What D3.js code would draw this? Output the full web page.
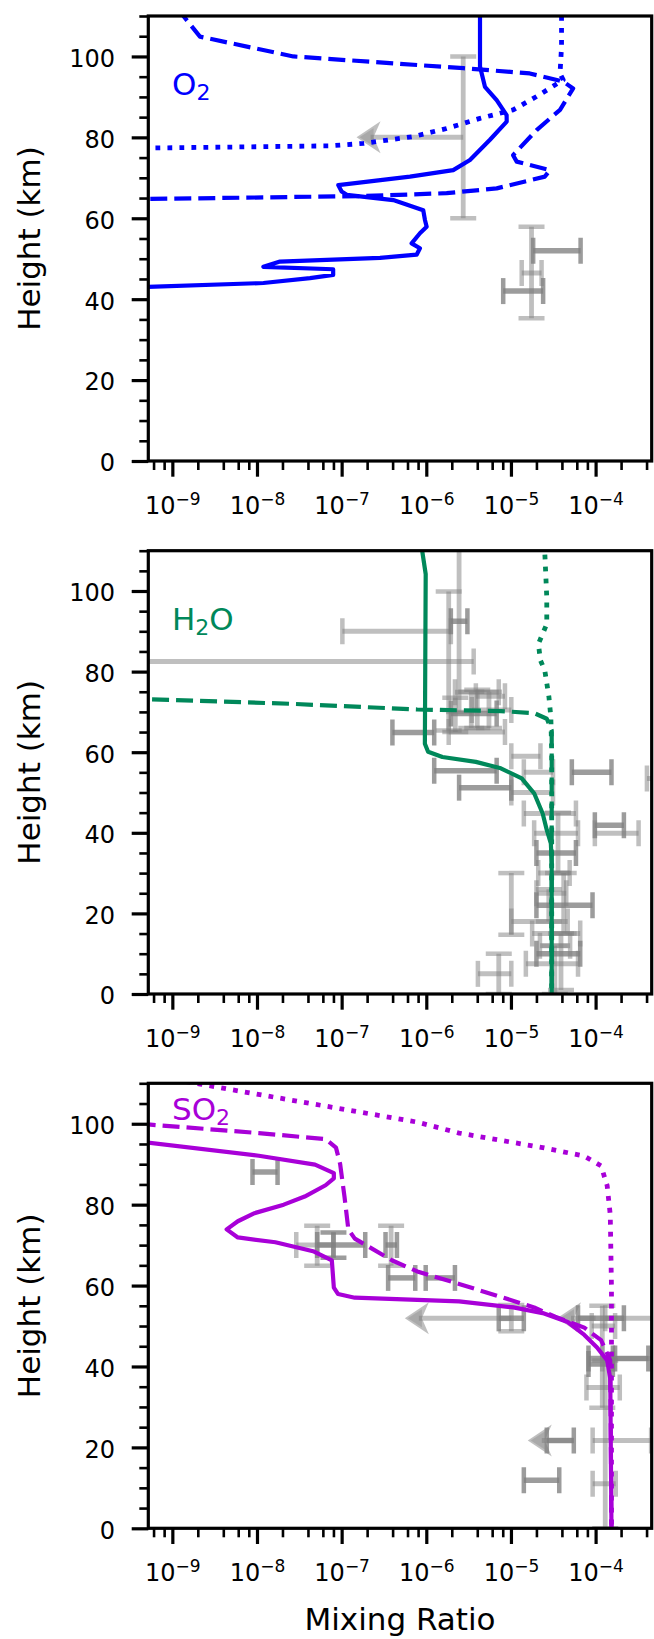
<!DOCTYPE html>
<html><head><meta charset="utf-8">
<script src="https://cdn.jsdelivr.net/npm/d3@7"></script>
<style>body{margin:0;background:#fff}svg{display:block}</style>
</head><body>
<svg id="c" width="654" height="1639"></svg>
<script>
// ---------------- DATA ----------------
const majorXTicks = [1e-9, 1e-8, 1e-7, 1e-6, 1e-5, 1e-4];
const yMajorTicks = [0, 20, 40, 60, 80, 100];
const yMinorTicks = [5,10,15,25,30,35,45,50,55,65,70,75,85,90,95,105,110];

// O2 model profiles [mixing ratio, height km]
const o2Solid = [[4.31e-6,112],[4.31e-6,97.5],[4.93e-6,92.5],[6.78e-6,89.2],[8.89e-6,85.5],[8.91e-6,83.9],[5.65e-6,79.4],[3.28e-6,74.4],[2.08e-6,71.9],[6.41e-7,70.3],[9.12e-8,68.2],[1.0e-7,66.6],[1.15e-7,65.8],[4.07e-7,64.5],[9.2e-7,62.0],[9.64e-7,59.6],[1.01e-6,57.9],[8.41e-7,56.3],[6.71e-7,53.8],[8.41e-7,52.6],[7.69e-7,51.0],[2.84e-7,50.2],[1.87e-8,49.3],[1.19e-8,48.0],[7.94e-8,47.4],[7.94e-8,46.0],[4.23e-8,45.2],[1.19e-8,44.0],[3e-10,42.9]];
const o2Dashed = [[1.2e-9,112.5],[1.35e-9,110],[2.12e-9,104.9],[2.69e-8,100],[2.74e-6,97.1],[1.67e-5,95.8],[4.14e-5,93.8],[5.43e-5,92.1],[3.8e-5,86.8],[2.01e-5,81.8],[1.06e-5,75.6],[1.17e-5,74.0],[2.88e-5,71.9],[2.52e-5,70.3],[6.78e-6,67.4],[1.74e-6,66.2],[1.8e-7,65.5],[3e-10,64.7]];
const o2Dotted = [[3.96e-5,110],[3.96e-5,102.4],[3.8e-5,95.8],[4.14e-5,94.2],[2.01e-5,90.1],[1.06e-5,86.8],[4.31e-6,84.7],[1.74e-6,82.2],[7.0e-7,80.2],[1.8e-7,78.5],[7.28e-8,77.9],[3e-10,77.3]];

// H2O model profiles
const h2oSolid = [[9.0e-7,112],[9.0e-7,109.6],[9.84e-7,104.2],[9.62e-7,62.1],[1.05e-6,60.1],[1.55e-6,58.8],[3.85e-6,57.6],[7.59e-6,56.0],[1.34e-5,53.5],[1.88e-5,49.8],[2.37e-5,44.8],[2.65e-5,40.7],[2.96e-5,37.4],[3.03e-5,32.4],[3.03e-5,0]];
const h2oDashed = [[3e-10,73.3],[2.6e-8,72.0],[7.83e-7,70.6],[7.6e-6,70.2],[1.88e-5,69.7],[2.65e-5,68.3],[3.03e-5,65.4],[3.03e-5,0]];
const h2oDotted = [[2.51e-5,112],[2.51e-5,109.6],[2.65e-5,98.4],[2.65e-5,91.8],[2.11e-5,86.9],[2.23e-5,82.8],[2.51e-5,80.3],[2.81e-5,73.7],[2.96e-5,68.7],[3.03e-5,60],[3.03e-5,0]];

// SO2 model profiles
const so2Solid = [[4e-10,95.6],[1.05e-8,92.1],[4.85e-8,89.9],[8.09e-8,87.8],[8.09e-8,86.5],[6.46e-8,84.8],[3.66e-8,82.0],[2.07e-8,80.0],[9.35e-9,77.9],[5.94e-9,75.9],[4.38e-9,73.9],[5.94e-9,71.9],[1.65e-8,70.7],[4.59e-8,68.5],[7.66e-8,66.2],[8.09e-8,59.5],[9.08e-8,57.9],[1.43e-7,57.0],[2.44e-6,56.1],[1.07e-5,54.6],[2.37e-5,53.2],[4.68e-5,51.0],[7.36e-5,47.8],[1.04e-4,44.7],[1.37e-4,41.5],[1.49e-4,37.0],[1.54e-4,0]];
const so2Dashed = [[4e-10,100.0],[1.05e-8,97.7],[6.46e-8,96.2],[8.57e-8,94.1],[9.59e-8,90.1],[1.08e-7,82.0],[1.2e-7,73.9],[1.43e-7,71.6],[3.97e-7,66.2],[7.83e-7,63.5],[2.44e-6,60.4],[7.6e-6,57.2],[1.88e-5,54.6],[3.33e-5,52.3],[7.36e-5,49.6],[1.16e-4,46.5],[1.49e-4,41.5],[1.54e-4,0]];
const so2Dotted = [[5.5e-10,112],[2.14e-9,109.8],[8.36e-9,107.6],[8.09e-8,104.0],[7.83e-7,100.4],[2.44e-6,97.7],[7.6e-6,95.9],[2.37e-5,94.1],[7.36e-5,92.0],[1.16e-4,89.6],[1.37e-4,84.7],[1.49e-4,77.5],[1.54e-4,59.5],[1.54e-4,0]];

// Observations: x, y centre; xlo/xhi, ylo/yhi error extents; ulim = upper limit arrow
const o2ObsLight = [
  {x:2.73e-6,y:80,xlo:1.5e-7,ulim:true,ylo:60,yhi:100},
  {x:1.75e-5,y:46.5,xlo:1.34e-5,xhi:2.3e-5,ylo:35.3,yhi:57.9}
];
const o2ObsDark = [
  {x:3.5e-5,y:52,xlo:1.83e-5,xhi:6.65e-5},
  {x:1.4e-5,y:42,xlo:8.1e-6,xhi:2.4e-5}
];
const h2oObsLight = [
  {x:4.5e-7,y:90,xlo:1.02e-7,xhi:1.95e-6},
  {x:1.84e-6,y:82.5,xlo:1e-11,xhi:3.63e-6,ylo:65.4,yhi:99.85},
  {x:2.44e-6,y:92.5,ylo:70,yhi:116},
  {x:2.4e-6,y:65.0,xlo:1.84e-6,xhi:8.5e-6},
  {x:4e-6,y:74.9,xlo:2.18e-6,xhi:7.18e-6,ylo:66,yhi:75.5},
  {x:5.5e-6,y:73.9,xlo:3.85e-6,xhi:8.5e-6,ylo:66,yhi:75},
  {x:6e-6,y:70.5,xlo:3.45e-6,xhi:1.01e-5},
  {x:2.2e-6,y:70,ylo:65,yhi:73.5},
  {x:3.4e-6,y:70,ylo:66,yhi:75},
  {x:1.5e-5,y:59.0,xlo:1.01e-5,xhi:2.23e-5},
  {x:2e-5,y:50.0,xlo:1.01e-5,xhi:3.14e-5},
  {x:2e-5,y:55.0,xlo:1.42e-5,xhi:3.14e-5},
  {x:5.5e-4,y:53.5,xlo:4.04e-4,xhi:7e-4},
  {x:1.8e-4,y:39.9,xlo:9.8e-5,xhi:3.22e-4},
  {x:3e-5,y:44.8,xlo:1.42e-5,xhi:5.86e-5},
  {x:3e-5,y:39.9,xlo:1.88e-5,xhi:6.2e-5},
  {x:3e-5,y:30.0,xlo:2.1e-5,xhi:4.94e-5},
  {x:3e-5,y:25.0,xlo:2.0e-5,xhi:4.5e-5},
  {x:2.2e-5,y:18.0,xlo:1.01e-5,xhi:4.68e-5},
  {x:1.01e-5,y:22.6,ylo:14.7,yhi:30},
  {x:3.2e-5,y:15.0,xlo:1.78e-5,xhi:6.58e-5},
  {x:3.2e-5,y:12.0,xlo:2.2e-5,xhi:5.0e-5},
  {x:3.2e-5,y:7.5,xlo:1.5e-5,xhi:6.2e-5},
  {x:7.18e-6,y:5.0,xlo:4.07e-6,xhi:1.01e-5,ylo:0,yhi:10},
  {x:3.6e-5,y:37,ylo:30,yhi:45},
  {x:4.2e-5,y:22,ylo:15,yhi:30},
  {x:2.8e-5,y:22,ylo:18,yhi:26},
  {x:3.9e-5,y:8,ylo:1,yhi:15},
  {x:3.3e-5,y:6,ylo:0,yhi:12}
];
const h2oObsDark = [
  {x:2.5e-6,y:92.5,xlo:1.95e-6,xhi:3.06e-6},
  {x:3.5e-6,y:69.6,xlo:1.95e-6,xhi:6.78e-6},
  {x:7e-7,y:64.9,xlo:3.98e-7,xhi:1.24e-6},
  {x:3e-6,y:55.4,xlo:1.24e-6,xhi:6.78e-6},
  {x:5e-6,y:51.2,xlo:2.44e-6,xhi:1.01e-5},
  {x:9e-5,y:55.0,xlo:5.24e-5,xhi:1.54e-4},
  {x:1.5e-4,y:41.9,xlo:9.8e-5,xhi:2.16e-4},
  {x:3.3e-5,y:35.0,xlo:2.0e-5,xhi:5.86e-5},
  {x:4e-5,y:22.0,xlo:2.0e-5,xhi:9.2e-5},
  {x:3.3e-5,y:10.0,xlo:2.0e-5,xhi:6.58e-5}
];
const so2ObsLight = [
  {x:5.14e-8,y:70,xlo:2.91e-8,xhi:8e-8,ylo:64.9,yhi:74.8},
  {x:3.84e-7,y:70,ylo:64.9,yhi:74.8},
  {x:1.01e-5,y:51.9,xlo:5.58e-7,ulim:true,ylo:48.7,yhi:55.2},
  {x:1.0e-4,y:51.9,xlo:3.5e-5,ulim:true},
  {x:3e-4,y:51.9,xlo:1.3e-4,xhi:8e-4},
  {x:1.3e-4,y:50,xlo:9e-5,xhi:1.7e-4},
  {x:1.2e-4,y:42,ylo:29.8,yhi:55},
  {x:1.3e-4,y:20,ylo:0,yhi:41.5},
  {x:5.5e-5,y:21.7,xlo:1.58e-5,ulim:true},
  {x:2e-4,y:21.7,xlo:9.23e-5,xhi:4.53e-4},
  {x:1.3e-4,y:11,xlo:9.23e-5,xhi:1.73e-4},
  {x:1.3e-4,y:34.8,xlo:7.8e-5,xhi:1.93e-4},
  {x:2.5e-4,y:42,xlo:1.2e-4,xhi:7e-4}
];
const so2ObsDark = [
  {x:1.25e-8,y:88.1,xlo:8.85e-9,xhi:1.75e-8},
  {x:8e-8,y:70,xlo:5.14e-8,xhi:1.9e-7,ylo:66.9,yhi:73.1},
  {x:3.84e-7,y:70,xlo:3.3e-7,xhi:4.5e-7},
  {x:5.1e-7,y:61.9,xlo:3.54e-7,xhi:7.41e-7},
  {x:1.5e-6,y:61.9,xlo:9.84e-7,xhi:2.18e-6},
  {x:1.01e-5,y:51.9,xlo:7.18e-6,xhi:1.42e-5},
  {x:1.2e-4,y:51.9,xlo:6.2e-5,xhi:2.16e-4},
  {x:1.1e-4,y:42,xlo:8.24e-5,xhi:1.6e-4},
  {x:2.5e-4,y:42,xlo:1.7e-4,xhi:4.2e-4},
  {x:1.1e-4,y:40.6,xlo:8.24e-5,xhi:1.6e-4},
  {x:3.8e-5,y:21.7,xlo:2.65e-5,xhi:5.53e-5},
  {x:2.3e-5,y:11.9,xlo:1.42e-5,xhi:3.72e-5}
];

// ---------------- LAYOUT ----------------
const FONT = "DejaVu Sans";
const LEFT = 148.3, RIGHT = 651.7;
const panels = [
  {top:16, bottom:461, color:"#0000ff", label:["O","2",""], labelDy:79,
   lines:[o2Solid,o2Dashed,o2Dotted], light:o2ObsLight, dark:o2ObsDark},
  {top:550.7, bottom:994, color:"#00885a", label:["H","2","O"], labelDy:79,
   lines:[h2oSolid,h2oDashed,h2oDotted], light:h2oObsLight, dark:h2oObsDark},
  {top:1083.3, bottom:1528.3, color:"#a800d8", label:["SO","2",""], labelDy:36.7,
   lines:[so2Solid,so2Dashed,so2Dotted], light:so2ObsLight, dark:so2ObsDark}
];
const lineStyles = [
  {w:4.2, dash:null},
  {w:4.2, dash:"17,7"},
  {w:4.8, dash:"4.8,7.2"}
];

const svg = d3.select("#c");
const x = d3.scaleLog().domain([5.2e-10, 4.6e-4]).range([LEFT, RIGHT]);

// minor x ticks: 2,4,6,8 x decade
const minorX = [];
for (let e = -10; e <= -4; e++) for (const m of [2,4,6,8]) {
  const v = m * Math.pow(10, e);
  if (v > 5.2e-10 && v < 4.6e-4) minorX.push(v);
}

panels.forEach((p, i) => {
  const y = d3.scaleLinear().domain([0, 110]).range([p.bottom, p.top]);
  const g = svg.append("g");
  const clipId = "clip" + i;
  svg.append("clipPath").attr("id", clipId).append("rect")
    .attr("x", LEFT).attr("y", p.top).attr("width", RIGHT - LEFT).attr("height", p.bottom - p.top);
  const plot = g.append("g").attr("clip-path", `url(#${clipId})`);

  // observations
  const drawObs = (list, opacity, bw) => {
    const og = plot.append("g").attr("stroke", "#808080").attr("stroke-opacity", opacity)
      .attr("fill", "none");
    list.forEach(o => {
      const cy = y(o.y), cx = x(o.x);
      if (o.xlo != null) {
        const x1 = x(o.xlo);
        const x2 = o.ulim ? cx : x(o.xhi);
        og.append("line").attr("x1", o.ulim ? x1 + 14 : x1).attr("x2", x2).attr("y1", cy).attr("y2", cy).attr("stroke-width", bw);
        if (o.ulim) {
          og.append("path").attr("stroke", "none").attr("fill", "#808080").attr("fill-opacity", opacity)
            .attr("d", `M${x1},${cy}L${x1+24},${cy-16}L${x1+17},${cy}L${x1+24},${cy+16}Z`);
          og.append("path").attr("stroke", "none").attr("fill", "#808080").attr("fill-opacity", opacity*0.7)
            .attr("d", `M${x1+3},${cy}L${x1+17},${cy-9}L${x1+17},${cy+9}Z`);
        } else {
          [x1, x2].forEach(xx => og.append("line").attr("x1", xx).attr("x2", xx)
            .attr("y1", cy - 13).attr("y2", cy + 13).attr("stroke-width", 4.5));
        }
      }
      if (o.ylo != null) {
        const y1 = y(o.ylo), y2 = y(o.yhi);
        og.append("line").attr("x1", cx).attr("x2", cx).attr("y1", y1).attr("y2", y2).attr("stroke-width", 4.8);
        [y1, y2].forEach(yy => og.append("line").attr("x1", cx - 13).attr("x2", cx + 13)
          .attr("y1", yy).attr("y2", yy).attr("stroke-width", 4.5));
      }
    });
  };
  drawObs(p.light, 0.5, 5);
  drawObs(p.dark, 0.78, 5.5);

  // model lines
  const line = d3.line().x(d => x(d[0])).y(d => y(d[1]));
  p.lines.forEach((data, k) => {
    const st = lineStyles[k];
    const path = plot.append("path").datum(data).attr("d", line)
      .attr("fill", "none").attr("stroke", p.color).attr("stroke-width", st.w)
      .attr("stroke-linejoin", "round").attr("stroke-linecap", "butt");
    if (st.dash) path.attr("stroke-dasharray", st.dash);
  });

  // species label
  const t = g.append("text").attr("x", 172).attr("y", p.top + p.labelDy)
    .attr("font-family", FONT).attr("font-size", 31).attr("fill", p.color);
  t.append("tspan").text(p.label[0]);
  t.append("tspan").attr("font-size", 22).attr("dy", 5).text(p.label[1]);
  if (p.label[2]) t.append("tspan").attr("font-size", 31).attr("dy", -5).text(p.label[2]);

  // axes: y
  const ay = g.append("g").attr("transform", `translate(${LEFT},0)`)
    .call(d3.axisLeft(y).tickValues(yMajorTicks).tickSize(16.6).tickPadding(16.7).tickFormat(d3.format("d")));
  ay.select(".domain").remove();
  ay.attr("font-family", FONT).attr("font-size", 24);
  ay.selectAll(".tick line").attr("stroke", "#000").attr("stroke-width", 3.2);
  ay.selectAll(".tick text").attr("fill", "#000").attr("dy", "0.41em");
  const ayMin = g.append("g").attr("transform", `translate(${LEFT},0)`)
    .call(d3.axisLeft(y).tickValues(yMinorTicks).tickSize(9).tickFormat(""));
  ayMin.select(".domain").remove();
  ayMin.selectAll(".tick line").attr("stroke", "#000").attr("stroke-width", 2.6);

  // axes: x
  const ax = g.append("g").attr("transform", `translate(0,${p.bottom})`)
    .call(d3.axisBottom(x).tickValues(majorXTicks).tickSize(15.7).tickFormat(() => "10"));
  ax.select(".domain").remove();
  ax.attr("font-family", FONT).attr("font-size", 24);
  ax.selectAll(".tick line").attr("stroke", "#000").attr("stroke-width", 3.2);
  ax.selectAll(".tick text").attr("fill", "#000").attr("y", 53).attr("dy", null)
    .each(function(d) {
      const e = Math.round(Math.log10(d));
      d3.select(this).append("tspan").attr("dy", -9).attr("font-size", 17).text("\u2212" + (-e));
    });
  const axMin = g.append("g").attr("transform", `translate(0,${p.bottom})`)
    .call(d3.axisBottom(x).tickValues(minorX).tickSize(9).tickFormat(""));
  axMin.select(".domain").remove();
  axMin.selectAll(".tick line").attr("stroke", "#000").attr("stroke-width", 2.6);

  // spines
  g.append("rect").attr("x", LEFT).attr("y", p.top).attr("width", RIGHT - LEFT).attr("height", p.bottom - p.top)
    .attr("fill", "none").attr("stroke", "#000").attr("stroke-width", 3.2);

  // y label
  g.append("text").attr("transform", `translate(39.6,${(p.top + p.bottom) / 2}) rotate(-90)`)
    .attr("text-anchor", "middle").attr("font-family", FONT).attr("font-size", 31).text("Height (km)");
});

svg.append("text").attr("x", (LEFT + RIGHT) / 2).attr("y", 1630).attr("text-anchor", "middle")
  .attr("font-family", FONT).attr("font-size", 31).text("Mixing Ratio");
</script>
</body></html>
